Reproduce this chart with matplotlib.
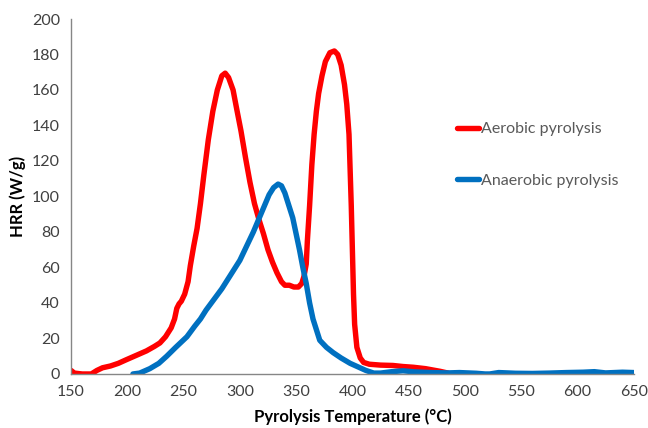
import matplotlib
matplotlib.use('Agg')
import matplotlib.pyplot as plt

# heat release rate vs pyrolysis temperature
aero_T = [150, 153, 160, 168, 173, 178, 185, 192, 199, 208, 217, 224, 229, 234, 239, 242,
          244, 246, 248, 251, 254, 256, 259, 262, 265, 268, 272, 276, 280, 284, 287, 290,
          294, 297, 301, 305, 309, 313, 317, 321, 325, 329, 333, 337, 340, 344, 348, 352,
          355, 357, 359, 360, 362, 364, 366, 368, 370, 373, 376, 380, 384, 387, 390, 393,
          395, 397, 398, 399, 400, 401, 402, 404, 407, 410, 415, 425, 436, 445, 454, 465,
          478, 485]
aero_hrr = [2, 0.5, 0, 0, 2, 3.5, 4.5, 6, 8, 10.5, 13, 15.5, 17.5, 21, 26, 31,
            37, 39.5, 41, 45, 52, 61, 72, 82, 96, 112, 132, 148, 160, 168, 169.5, 167,
            160, 150, 137, 122, 108, 96, 87, 79, 70, 63, 57, 52, 50, 50, 49, 49,
            51, 55, 62, 75, 95, 118, 135, 148, 158, 168, 176, 181, 182, 180, 174, 163,
            152, 135, 115, 95, 70, 45, 28, 15, 9, 6.5, 5.5, 5, 4.8, 4.2, 3.8, 3,
            1.5, 0.5]

anaero_T = [205, 211, 220, 228, 235, 243, 253, 260, 265, 270, 277, 284, 290, 294, 300, 306,
            312, 318, 322, 326, 330, 334, 337, 340, 343, 347, 350, 353, 356, 359, 362, 365,
            368, 371, 377, 383, 390, 398, 405, 412, 419, 425, 435, 445, 455, 470, 485, 495,
            510, 518, 522, 530, 545, 560, 575, 590, 605, 615, 625, 640, 650]
anaero_hrr = [0, 0.5, 3, 6, 10, 15, 21, 27, 31, 36, 42, 48, 54, 58, 64, 72,
              80, 89, 95, 101, 105, 107, 106, 102, 96, 88, 79, 70, 60, 51, 40, 31,
              25, 19, 15, 12, 9, 6, 4, 2, 0.5, 0.5, 1.3, 1.8, 1.2, 0.8, 0.6, 0.8,
              0.4, 0, 0, 0.8, 0.4, 0.3, 0.5, 0.8, 1, 1.3, 0.6, 1, 0.8]

plt.rcParams['font.family'] = ['Lato', 'DejaVu Sans']

fig = plt.figure(figsize=(6.48, 4.28), dpi=100)
ax = fig.add_axes([0.1096, 0.1262, 0.8684, 0.8294])

ax.plot(aero_T, aero_hrr, color='#FF0000', lw=3.9, solid_capstyle='round',
        solid_joinstyle='round', label='Aerobic pyrolysis')
ax.plot(anaero_T, anaero_hrr, color='#0070C0', lw=3.9, solid_capstyle='round',
        solid_joinstyle='round', label='Anaerobic pyrolysis')

ax.set_xlim(150, 650)
ax.set_ylim(0, 200)
ax.set_xticks(range(150, 651, 50))
ax.set_yticks(range(0, 201, 20))
ax.tick_params(length=0, labelsize=11.5, labelcolor='#404040', pad=8)

for s in ['top', 'right']:
    ax.spines[s].set_visible(False)
for s in ['left', 'bottom']:
    ax.spines[s].set_color('#868686')
    ax.spines[s].set_linewidth(1)

ax.set_xlabel('Pyrolysis Temperature (°C)', fontsize=12, fontweight='bold', labelpad=7)
ax.set_ylabel('HRR (W/g)', fontsize=12, fontweight='bold', labelpad=4)

leg = ax.legend(loc='upper left', bbox_to_anchor=(0.66, 0.75), frameon=False,
                fontsize=11.5, handlelength=1.4, handletextpad=0.1, labelspacing=2.35)
for t in leg.get_texts():
    t.set_color('#595959')

fig.savefig('out.png', dpi=100)
